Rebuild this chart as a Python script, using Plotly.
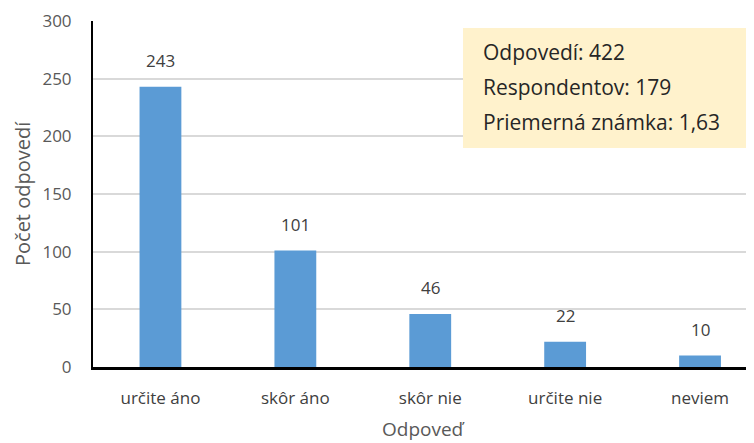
import plotly.graph_objects as go

categories = ["určite áno", "skôr áno", "skôr nie", "určite nie", "neviem"]
values = [243, 101, 46, 22, 10]
y_ticks = [0, 50, 100, 150, 200, 250, 300]
summary_lines = ["Odpovedí: 422", "Respondentov: 179", "Priemerná známka: 1,63"]

FONT = "'Open Sans', sans-serif"

# page has an 8px body margin; work in figure pixel coordinates
W, H = 746, 435
L, R, T, B = 85, 0, 13, 76
PW, PH = W - L - R, H - T - B


def px(x):
    return (x - L) / PW


def py(y):
    return (H - B - y) / PH


fig = go.Figure()
fig.add_trace(go.Bar(
    x=list(range(len(categories))), y=values,
    marker=dict(color="#5B9BD5", line=dict(width=0)),
    width=0.31,
))

annotations = []
for i, v in enumerate(values):
    annotations.append(dict(
        x=i, y=v, xref="x", yref="y", text=str(v), showarrow=False,
        yanchor="middle", yshift=26,
        font=dict(family=FONT, size=17, color="#404040"),
    ))

for k, line in enumerate(summary_lines):
    annotations.append(dict(
        xref="paper", yref="paper", x=px(473), y=py(44 + 35 * k),
        xanchor="left", yanchor="middle", text=line, showarrow=False,
        font=dict(family=FONT, size=21, color="#262626"),
    ))

annotations.append(dict(
    xref="paper", yref="paper", x=px(14), y=0.5, textangle=-90,
    xanchor="center", yanchor="middle", text="Počet odpovedí", showarrow=False,
    font=dict(family=FONT, size=20, color="#595959"),
))
annotations.append(dict(
    xref="paper", yref="paper", x=px(415), y=py(421),
    xanchor="center", yanchor="middle", text="Odpoveď", showarrow=False,
    font=dict(family=FONT, size=19, color="#595959"),
))

fig.update_layout(
    width=W, height=H,
    margin=dict(l=L, r=R, t=T, b=B),
    plot_bgcolor="white", paper_bgcolor="white",
    showlegend=False,
    font=dict(family=FONT, color="#595959"),
    xaxis=dict(
        range=[-0.5, 4.4],
        tickmode="array", tickvals=list(range(len(categories))), ticktext=categories,
        tickfont=dict(size=17, color="#404040"),
        showline=True, linecolor="black", linewidth=3,
        showgrid=False, ticks="outside", ticklen=14, tickcolor="rgba(0,0,0,0)",
        zeroline=False,
    ),
    yaxis=dict(
        range=[0, 300],
        tickmode="array", tickvals=y_ticks,
        tickfont=dict(size=17, color="#595959"),
        showline=True, linecolor="black", linewidth=2,
        showgrid=True, gridcolor="#D9D9D9", gridwidth=1.5,
        zeroline=False, ticks="outside", ticklen=16, tickcolor="rgba(0,0,0,0)",
    ),
    shapes=[dict(
        type="rect", xref="paper", yref="paper",
        x0=px(455), x1=px(760), y0=py(140), y1=py(20),
        fillcolor="#FFF2CC", line=dict(width=0), layer="above",
    )],
    annotations=annotations,
)

fig.write_html("out.html")
